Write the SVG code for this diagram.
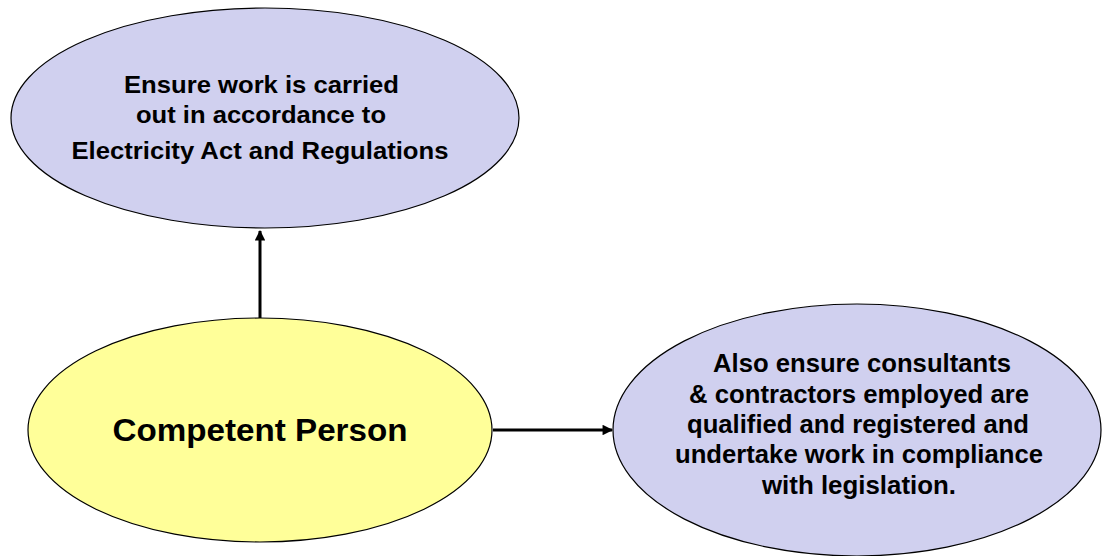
<svg xmlns="http://www.w3.org/2000/svg" width="1102" height="556" viewBox="0 0 1102 556">
<defs>
<style>
.node ellipse{stroke:#000;stroke-width:1.2}
.blue{fill:#D0D0EF}
.yellow{fill:#FFFF99}
text{font-family:"Liberation Sans",Arial,sans-serif;font-weight:bold;fill:#000;text-anchor:middle}
.t24{font-size:24px}
.t25{font-size:25px}
.t32{font-size:32px}
.conn line{stroke:#000;stroke-width:3}
</style>
<marker id="arr" viewBox="0 0 10 10" refX="9" refY="5" markerWidth="4" markerHeight="3.5" orient="auto" markerUnits="strokeWidth">
<path d="M0,0 L10,5 L0,10 z" fill="#000"/>
</marker>
</defs>
<rect width="1102" height="556" fill="#fff"/>
<g id="n-ensure" class="node">
<ellipse class="blue" cx="265" cy="118" rx="254" ry="110"/>
<text class="t24" x="261.5" y="93" textLength="275" lengthAdjust="spacingAndGlyphs">Ensure work is carried</text>
<text class="t24" x="261" y="123" textLength="250" lengthAdjust="spacingAndGlyphs">out in accordance to</text>
<text class="t24" x="260" y="159" textLength="377" lengthAdjust="spacingAndGlyphs">Electricity Act and Regulations</text>
</g>
<g id="n-competent" class="node">
<ellipse class="yellow" cx="260" cy="430" rx="232" ry="112"/>
<text class="t32" x="260" y="441" textLength="295" lengthAdjust="spacingAndGlyphs">Competent Person</text>
</g>
<g id="n-also" class="node">
<ellipse class="blue" cx="857" cy="430" rx="244" ry="126"/>
<text class="t25" x="862" y="372" textLength="298" lengthAdjust="spacingAndGlyphs">Also ensure consultants</text>
<text class="t25" x="859" y="403" textLength="340" lengthAdjust="spacingAndGlyphs">&amp; contractors employed are</text>
<text class="t25" x="858" y="433" textLength="342" lengthAdjust="spacingAndGlyphs">qualified and registered and</text>
<text class="t25" x="859" y="463" textLength="368" lengthAdjust="spacingAndGlyphs">undertake work in compliance</text>
<text class="t25" x="859" y="494" textLength="194" lengthAdjust="spacingAndGlyphs">with legislation.</text>
</g>
<g id="connectors" class="conn">
<line x1="260" y1="318" x2="260" y2="231" marker-end="url(#arr)"/>
<line x1="493" y1="430" x2="612" y2="430" marker-end="url(#arr)"/>
</g>
</svg>
